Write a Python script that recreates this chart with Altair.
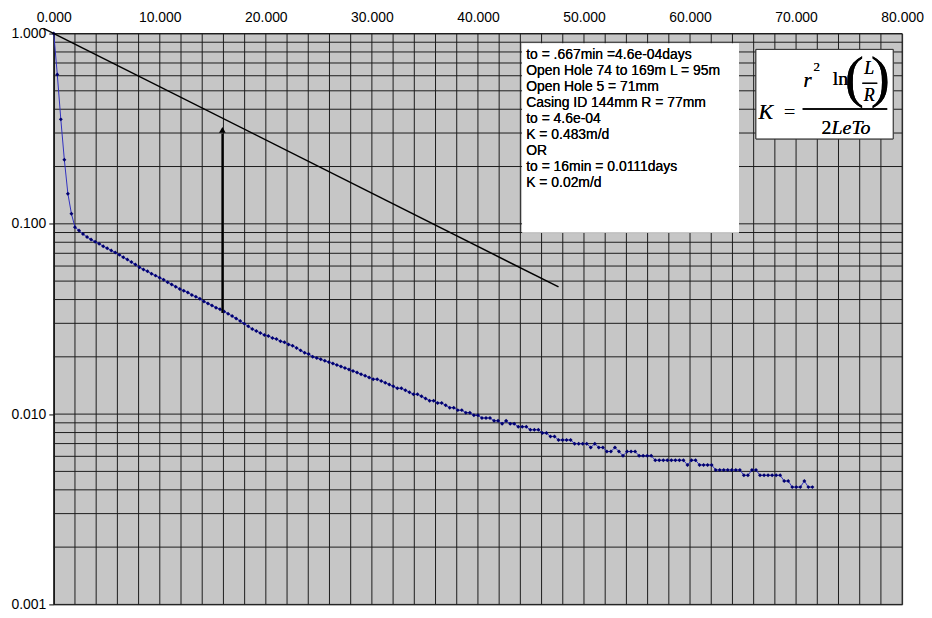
import altair as alt
import pandas as pd

# ---------------- data ----------------
# first readings (minutes) and measured head (mm) -- H0 = 3145 mm
early_t = [0.0, 1 / 3, 2 / 3, 1.0, 4 / 3, 5 / 3]
early_head_mm = [3145, 1918, 1113, 682, 453, 355]
H0 = 3145.0
# later readings, logged at a regular interval starting at t = 2.0 min
step_start = 2.0
step = 0.38
head_mm = [
    302, 290, 278, 268, 260, 253, 247, 240, 234, 228, 222, 216, 210, 204, 198, 192,
    186, 181, 177, 172, 168, 164, 160, 155, 151, 147, 143, 140, 137, 133, 130, 127,
    123, 120, 117, 114, 112, 109, 106, 103, 100, 97, 94, 91, 88, 86, 84, 82,
    81, 79, 78, 76, 75, 73, 72, 70, 68, 66, 65, 63, 62, 61, 60, 59,
    58, 57, 56, 55, 54, 53, 52, 51, 50, 49, 48, 48, 47, 46, 45, 44,
    43, 43, 42, 41, 40, 40, 39, 38, 37, 37, 36, 36, 35, 34, 34, 33,
    33, 32, 32, 31, 31, 30, 30, 30, 29, 29, 28, 29, 28, 28, 27, 27,
    27, 26, 26, 26, 25, 25, 24, 24, 23, 23, 23, 23, 22, 22, 22, 22,
    21, 22, 21, 21, 20, 20, 21, 20, 19, 20, 20, 20, 19, 19, 19, 19,
    18, 18, 18, 18, 18, 18, 18, 18, 17, 18, 18, 17, 17, 17, 17, 16,
    16, 16, 16, 16, 16, 16, 15, 15, 16, 16, 15, 15, 15, 15, 15, 15,
    14, 14, 13, 13, 13, 14, 13, 13,
]

# straight reference line and the arrow
ref_t = [-0.97, 47.6]
ref_ratio = [1.065, 0.0466]
arrow_t = [15.9]
arrow_from = [0.034]
arrow_to = [0.298]
arrow_head = [0.312]

x_labels = list(range(0, 81, 10))
y_labels = [0.001, 0.01, 0.1, 1.0]
x_grid = list(range(0, 81, 2))
y_grid = [m * 10 ** e for e in (-3, -2, -1) for m in range(1, 10)] + [1.0]

note_lines = [
    "to = .667min =4.6e-04days",
    "Open Hole 74 to 169m L = 95m",
    "Open Hole 5 = 71mm",
    "Casing ID 144mm R = 77mm",
    "to = 4.6e-04",
    "K = 0.483m/d",
    "OR",
    "to = 16min = 0.0111days",
    "K = 0.02m/d",
]

# ---------------- tables ----------------
t_all = early_t + [step_start + step * i for i in range(len(head_mm))]
ratio_all = [h / H0 for h in early_head_mm + head_mm]
df = pd.DataFrame({"t": t_all, "ratio": ratio_all})
df_ref = pd.DataFrame({"t": ref_t, "ratio": ref_ratio})
df_arrow = pd.DataFrame({"t": arrow_t, "ratio": arrow_from, "ratio2": arrow_to})
df_head = pd.DataFrame({"t": arrow_t, "ratio": arrow_head})
df_xg = pd.DataFrame({"t": x_grid})
df_yg = pd.DataFrame({"ratio": y_grid})

FONT = "Liberation Sans"
SERIF = "Liberation Serif"

X_SCALE = alt.Scale(domain=[0, 80], nice=False, zero=False)
Y_SCALE = alt.Scale(type="log", domain=[0.001, 1], nice=False)
X_AX = alt.Axis(orient="top", values=x_labels, format=".3f", title=None, ticks=False,
                domain=False, grid=False, labelFontSize=14, labelFont=FONT,
                labelColor="black", labelPadding=9, labelFlush=False)
Y_AX = alt.Axis(orient="left", values=y_labels, format=".3f", title=None, ticks=True,
                tickSize=5, tickColor="black", domain=True, domainColor="black",
                grid=False, labelFontSize=14, labelFont=FONT, labelColor="black",
                labelPadding=3, labelFlush=False)


def X(field="t"):
    return alt.X(f"{field}:Q", scale=X_SCALE, axis=X_AX)


def Y(field="ratio"):
    return alt.Y(f"{field}:Q", scale=Y_SCALE, axis=Y_AX)


grid_color = "#1c1c1c"
vgrid = alt.Chart(df_xg).mark_rule(color=grid_color, strokeWidth=1).encode(x=X())
hgrid = alt.Chart(df_yg).mark_rule(color=grid_color, strokeWidth=1).encode(y=Y())

series_line = alt.Chart(df).mark_line(color="#3030c0", strokeWidth=1).encode(x=X(), y=Y())
series_pts = alt.Chart(df).mark_point(shape="diamond", filled=True, size=16, opacity=1,
                                      color="#000070").encode(x=X(), y=Y())

ref_line = alt.Chart(df_ref).mark_line(color="black", strokeWidth=1.5).encode(x=X(), y=Y())
arrow = alt.Chart(df_arrow).mark_rule(color="black", strokeWidth=2).encode(
    x=X(), y=Y(), y2="ratio2:Q")
arrow_tip = alt.Chart(df_head).mark_point(shape="triangle-up", filled=True, size=45,
                                          opacity=1, color="black").encode(x=X(), y=Y())

# annotation box
note_box = alt.Chart(df_ref).mark_rect(fill="white").encode(
    x=alt.value(471), x2=alt.value(689), y=alt.value(10), y2=alt.value(200))
note_text = alt.Chart(df_ref).mark_text(
    text=note_lines, align="left", baseline="top", fontSize=14, font=FONT,
    lineHeight=16, color="black").encode(x=alt.value(475), y=alt.value(15))

# formula box
f_box = alt.Chart(df_ref).mark_rect(fill="white", stroke="#333333", strokeWidth=1).encode(
    x=alt.value(706), x2=alt.value(844), y=alt.value(16), y2=alt.value(106))
f_bar = alt.Chart(df_ref).mark_rule(color="black", strokeWidth=1.5).encode(
    x=alt.value(753), x2=alt.value(838), y=alt.value(76))
f_bar2 = alt.Chart(df_ref).mark_rule(color="black", strokeWidth=1.2).encode(
    x=alt.value(813), x2=alt.value(828), y=alt.value(50))

formula_parts = [
    ("K", 716, 79, 22, "italic", "center"),
    ("=", 740, 79, 20, "normal", "center"),
    ("r", 758, 48, 21, "italic", "center"),
    ("2", 764, 34, 13, "normal", "left"),
    ("ln", 791, 46, 20, "normal", "center"),
    ("(", 805, 46, 58, "normal", "center"),
    (")", 831, 46, 58, "normal", "center"),
    ("L", 820, 36, 18, "italic", "center"),
    ("R", 820, 63, 18, "italic", "center"),
    ("2", 772, 95, 20, "normal", "left"),
    ("LeTo", 782, 95, 20, "italic", "left"),
]
f_texts = []
for txt, px, py, fs, style, al in formula_parts:
    f_texts.append(
        alt.Chart(df_ref).mark_text(text=txt, font=SERIF, fontSize=fs, fontStyle=style,
                                    align=al, baseline="middle", color="black")
        .encode(x=alt.value(px), y=alt.value(py))
    )

chart = alt.layer(
    vgrid, hgrid, series_line, series_pts, ref_line, arrow, arrow_tip,
    note_box, note_text, f_box, f_bar, f_bar2, *f_texts,
).properties(
    width=853, height=574,
    padding={"left": 46, "top": 24, "right": 22, "bottom": 10},
    autosize=alt.AutoSizeParams(type="none"),
    background="white",
).configure_view(fill="#c6c6c6", stroke="#333333", strokeWidth=1)

chart.save("out.html", embed_options={"renderer": "svg", "actions": False})
